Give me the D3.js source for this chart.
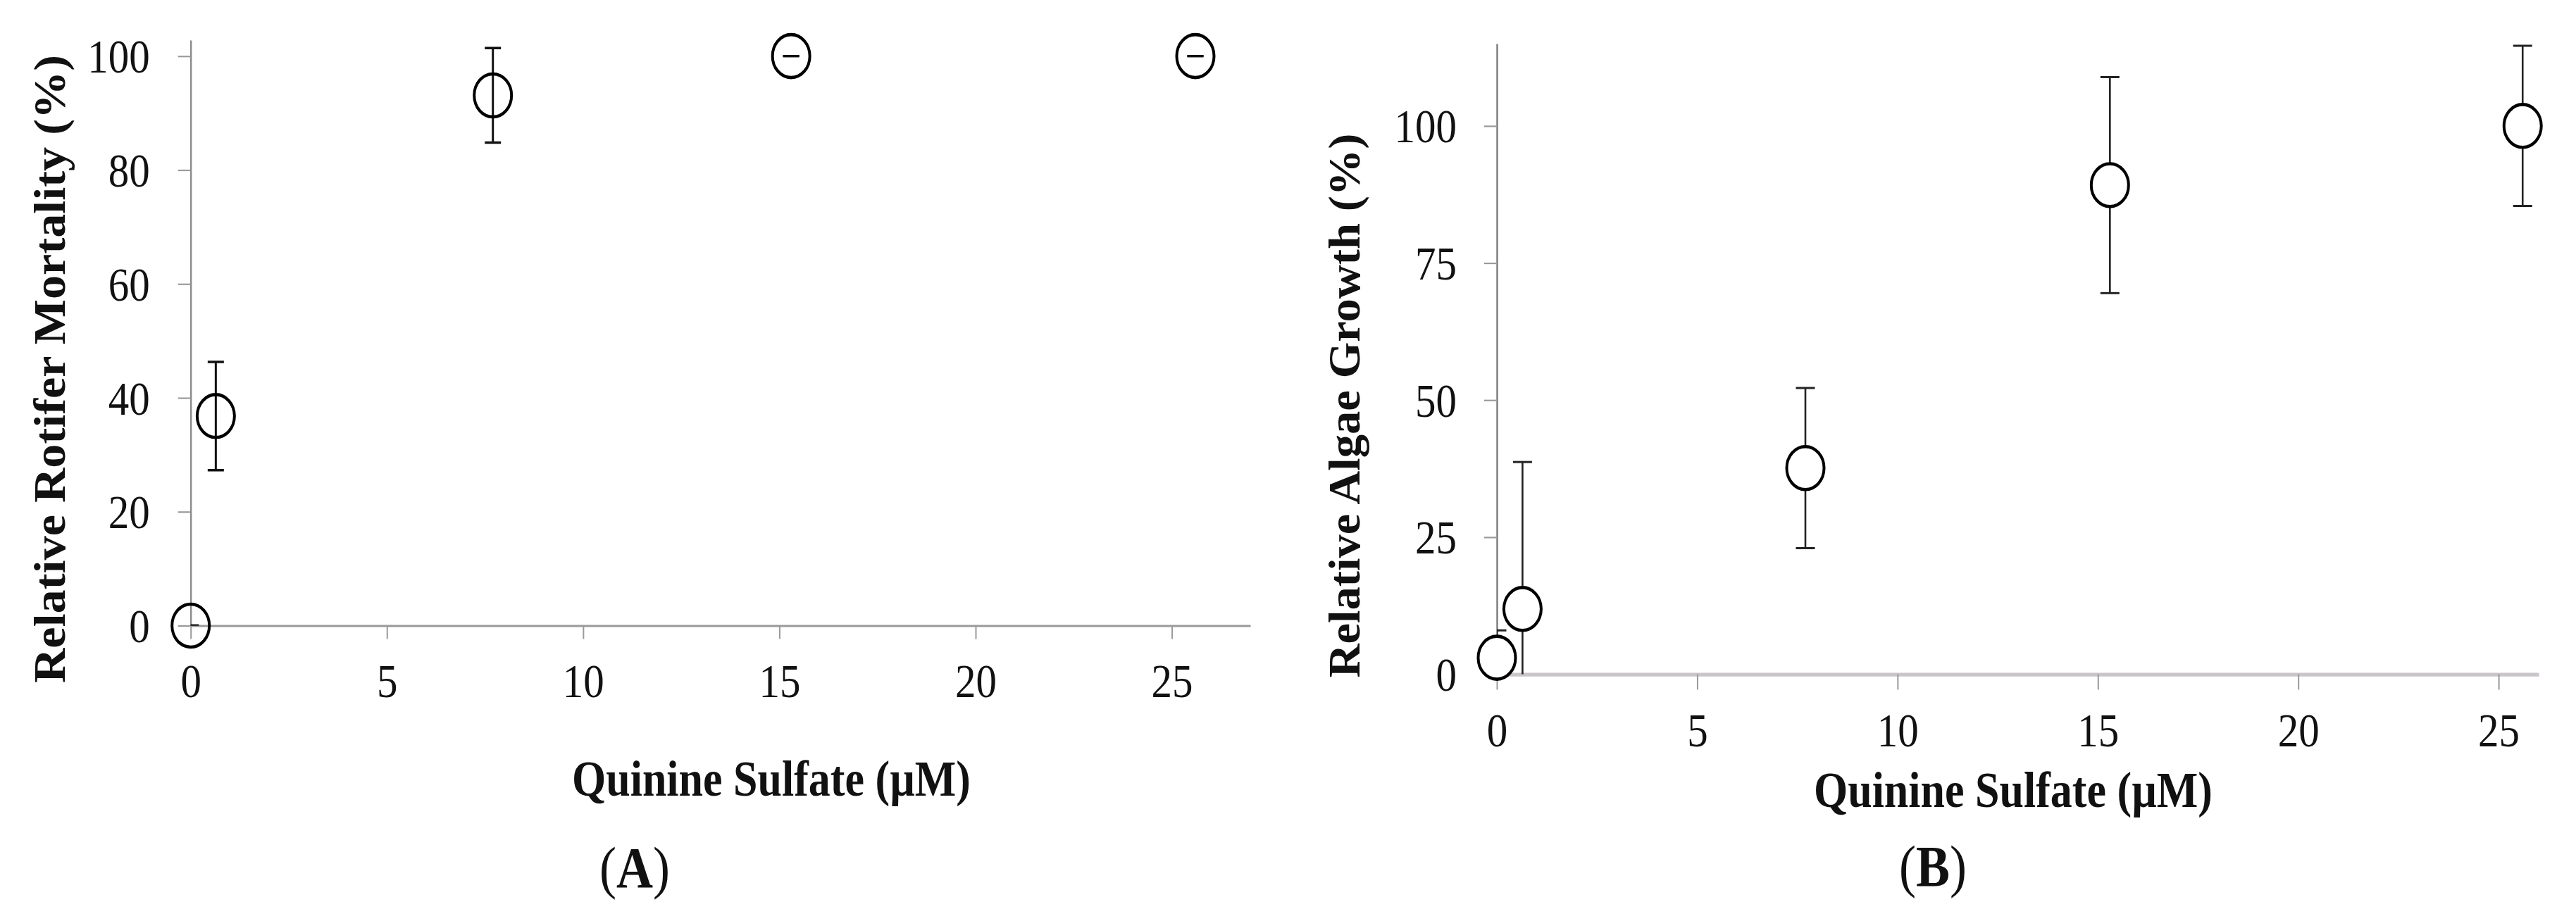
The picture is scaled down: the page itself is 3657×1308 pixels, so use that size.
<!DOCTYPE html>
<html>
<head>
<meta charset="utf-8">
<script src="https://cdn.jsdelivr.net/npm/d3@7"></script>
<style>
html, body { margin: 0; padding: 0; background: #fff; }
svg { display: block; }
text { font-family: "Liberation Serif", "Times New Roman", serif; }
</style>
</head>
<body>
<svg id="chart" width="3657" height="1308"></svg>
<script>
// quinine sulfate concentrations (uM), same for both panels
var conc = [0, 0.64, 7.7, 15.3, 25.6];

// (A) relative rotifer mortality
var mortality = [0, 36.8, 93.1, 100, 100];
var mortalityErr = [0, 9.5, 8.3, 0, 0];

// (B) relative algae growth
var growth = [3.0, 11.9, 37.6, 89.2, 100];
var growthErr = [5.0, 26.8, 14.6, 19.7, 14.6];

var xTicks = [0, 5, 10, 15, 20, 25];
var yTicksA = [0, 20, 40, 60, 80, 100];
var yTicksB = [0, 25, 50, 75, 100];

// the source figure is stretched a little vertically, so draw in a squashed frame and scale it back
var SY = 1.15;
function Y(v) { return v / SY; }

var svg = d3.select("#chart");
svg.append("rect").attr("width", 3657).attr("height", 1308).attr("fill", "#fff");
var root = svg.append("g").attr("transform", "scale(1," + SY + ")");

function styleText(sel, size, weight) {
    sel.attr("font-family", "'Liberation Serif', 'Times New Roman', serif")
        .attr("font-size", size)
        .attr("font-weight", weight || "normal")
        .attr("fill", "#111");
}

function drawPanel(cfg) {
    var x = d3.scaleLinear().domain(cfg.xDomain).range([cfg.left, cfg.right]);
    var y = d3.scaleLinear().domain(cfg.yDomain).range([Y(cfg.bottom), Y(cfg.top)]);
    var g = root.append("g");

    var pts = conc.map(function(c, i) {
        return {x: c, y: cfg.values[i], e: cfg.errors[i]};
    });

    // x axis
    var xg = g.append("g")
        .attr("transform", "translate(0," + Y(cfg.bottom) + ")")
        .call(d3.axisBottom(x).tickValues(xTicks).tickSize(Y(cfg.xTickLen)).tickSizeOuter(0));
    xg.attr("font-family", null).attr("font-size", null);
    xg.select(".domain").attr("stroke", cfg.xAxisColor).attr("stroke-width", cfg.xAxisWidth);
    xg.selectAll(".tick line").attr("stroke", cfg.tickColor).attr("stroke-width", 2);
    xg.selectAll(".tick text").attr("y", Y(cfg.xLabelGap)).attr("dy", 0).call(styleText, 59);

    // y axis
    var yg = g.append("g")
        .attr("transform", "translate(" + cfg.left + ",0)")
        .call(d3.axisLeft(y).tickValues(cfg.yTicks).tickSize(cfg.yTickLen).tickPadding(cfg.yPad).tickSizeOuter(0));
    yg.attr("font-family", null).attr("font-size", null);
    yg.select(".domain").attr("stroke", cfg.yAxisColor).attr("stroke-width", 2.4);
    yg.selectAll(".tick line").attr("stroke", cfg.tickColor).attr("stroke-width", 1.9);
    yg.selectAll(".tick text").attr("dy", "0.34em").call(styleText, 59);

    // error bars are clipped to the plot area
    var clipId = "clip" + cfg.name;
    g.append("clipPath").attr("id", clipId)
        .append("rect")
        .attr("x", cfg.left).attr("y", Y(cfg.top))
        .attr("width", cfg.right - cfg.left).attr("height", Y(cfg.bottom) - Y(cfg.top));

    var bars = g.append("g").attr("clip-path", "url(#" + clipId + ")")
        .selectAll("g").data(pts).enter().append("g")
        .attr("stroke", cfg.barColor).attr("stroke-width", cfg.barWidth);
    bars.append("line")
        .attr("x1", function(d) { return x(d.x); })
        .attr("x2", function(d) { return x(d.x); })
        .attr("y1", function(d) { return y(d.y - d.e); })
        .attr("y2", function(d) { return y(d.y + d.e); });
    [-1, 1].forEach(function(s) {
        bars.append("line")
            .attr("x1", function(d) { return x(d.x) - cfg.cap / 2; })
            .attr("x2", function(d) { return x(d.x) + cfg.cap / 2; })
            .attr("y1", function(d) { return y(d.y + s * d.e); })
            .attr("y2", function(d) { return y(d.y + s * d.e); });
    });

    // open circle markers
    g.append("g").selectAll("circle").data(pts).enter().append("circle")
        .attr("cx", function(d) { return x(d.x); })
        .attr("cy", function(d) { return y(d.y); })
        .attr("r", 26.5)
        .attr("fill", cfg.markerFill)
        .attr("stroke", "#000")
        .attr("stroke-width", 4);

    // axis titles
    g.append("text")
        .attr("transform", "translate(" + cfg.yTitleX + "," + Y(cfg.yTitleY) + ") rotate(-90)")
        .attr("text-anchor", "middle")
        .attr("textLength", Y(cfg.yTitleLen))
        .attr("lengthAdjust", "spacingAndGlyphs")
        .text(cfg.yTitle)
        .call(styleText, 63, "bold");

    g.append("text")
        .attr("x", cfg.xTitleX).attr("y", Y(cfg.xTitleY))
        .attr("text-anchor", "middle")
        .text("Quinine Sulfate (\u00b5M)")
        .call(styleText, 62, "bold");

    // panel letter
    var lab = g.append("text")
        .attr("x", cfg.labelX).attr("y", Y(cfg.labelY))
        .attr("text-anchor", "middle")
        .call(styleText, 72);
    lab.append("tspan").text("(");
    lab.append("tspan").attr("font-weight", "bold").text(cfg.name);
    lab.append("tspan").text(")");
}

drawPanel({
    name: "A",
    values: mortality, errors: mortalityErr, yTicks: yTicksA,
    xDomain: [0, 27], yDomain: [0, 102.8],
    left: 270.7, right: 1775, top: 57, bottom: 888.5,
    xTickLen: 19, yTickLen: 18, yPad: 40, xLabelGap: 101.5,
    xAxisColor: "#9a9a9a", xAxisWidth: 2.6, yAxisColor: "#8c8c8c", tickColor: "#9a9a9a",
    barColor: "#111", barWidth: 3, cap: 23, markerFill: "none",
    yTitle: "Relative Rotifer Mortality (%)", yTitleX: 92, yTitleY: 524, yTitleLen: 892,
    xTitleX: 1095, xTitleY: 1130,
    labelX: 901, labelY: 1260
});

drawPanel({
    name: "B",
    values: growth, errors: growthErr, yTicks: yTicksB,
    xDomain: [0, 26], yDomain: [0, 115],
    left: 2125, right: 3604, top: 62, bottom: 957.5,
    xTickLen: 22, yTickLen: 18, yPad: 39, xLabelGap: 102.5,
    xAxisColor: "#c9c5c9", xAxisWidth: 4.5, yAxisColor: "#7a7a7a", tickColor: "#9a9a9a",
    barColor: "#222", barWidth: 2.6, cap: 27, markerFill: "#fff",
    yTitle: "Relative Algae Growth (%)", yTitleX: 1930, yTitleY: 576, yTitleLen: 773,
    xTitleX: 2858, xTitleY: 1146,
    labelX: 2744, labelY: 1258
});
</script>
</body>
</html>
